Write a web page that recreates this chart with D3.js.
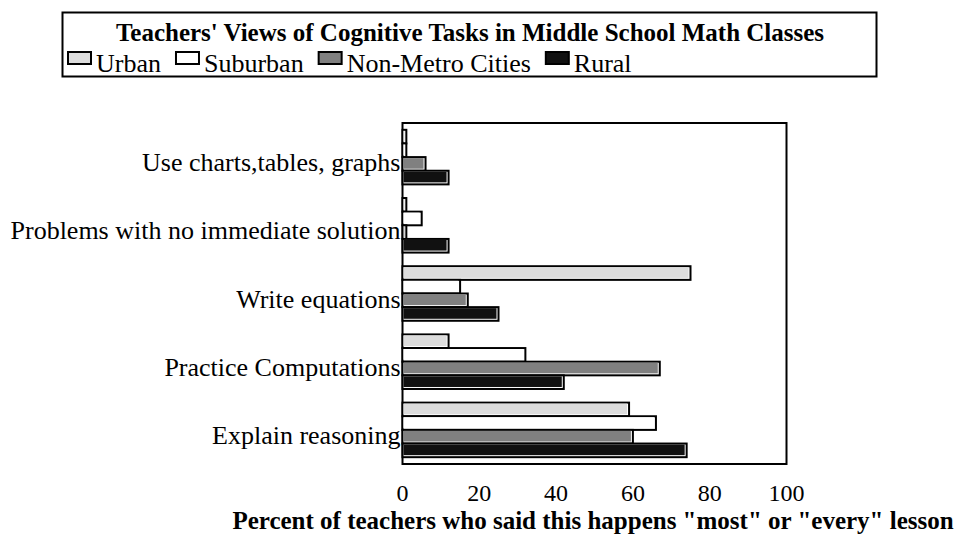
<!DOCTYPE html>
<html>
<head>
<meta charset="utf-8">
<script src="https://cdn.jsdelivr.net/npm/d3@7"></script>
<style>
  html, body { margin: 0; padding: 0; background: #fff; }
  svg { display: block; }
  text { font-family: "Liberation Serif", "Times New Roman", serif; fill: #000; }
</style>
</head>
<body>
<svg id="chart" width="960" height="542"></svg>
<script>
const title = "Teachers' Views of Cognitive Tasks in Middle School Math Classes";
const xTitle = "Percent of teachers who said this happens \"most\" or \"every\" lesson";
const categories = ["Use charts,tables, graphs", "Problems with no immediate solution", "Write equations", "Practice Computations", "Explain reasoning"];
const seriesNames = ["Urban", "Suburban", "Non-Metro Cities", "Rural"];
const seriesColors = ["#dcdcdc", "#ffffff", "#808080", "#111111"];
const urban    = [1, 1, 75, 12, 59];
const suburban = [1, 5, 15, 32, 66];
const nonMetro = [6, 1, 17, 67, 60];
const rural    = [12, 12, 25, 42, 74];
const xTicks = [0, 20, 40, 60, 80, 100];

const seriesValues = [urban, suburban, nonMetro, rural];

const svg = d3.select("#chart");

// Legend box
svg.append("rect").attr("x", 62.5).attr("y", 12.5).attr("width", 814).attr("height", 64)
  .attr("fill", "#fff").attr("stroke", "#000").attr("stroke-width", 2);
svg.append("text").attr("x", 470).attr("y", 41).attr("text-anchor", "middle")
  .attr("font-size", 25).attr("font-weight", "bold").text(title);

// Legend items laid out sequentially
let lx = 67;
const legendG = svg.append("g");
seriesNames.forEach((name, i) => {
  legendG.append("rect").attr("x", lx + 1).attr("y", 52).attr("width", 23).attr("height", 12)
    .attr("fill", seriesColors[i]).attr("stroke", "#000").attr("stroke-width", 2);
  const t = legendG.append("text").attr("x", lx + 29).attr("y", 72).attr("font-size", 26).text(name);
  const w = t.node().getComputedTextLength();
  lx = lx + 29 + w + 14;
});

// Plot
const pLeft = 402.5, pRight = 786.5, pTop = 123, pBottom = 464;
const x = d3.scaleLinear().domain([0, 100]).range([pLeft, pRight]);
const y0 = d3.scaleBand().domain(categories).range([pTop, pBottom]).paddingInner(0.2).paddingOuter(0.1);
const y1 = d3.scaleBand().domain(seriesNames).range([0, y0.bandwidth()]);

svg.append("rect").attr("x", pLeft).attr("y", pTop).attr("width", pRight - pLeft).attr("height", pBottom - pTop)
  .attr("fill", "#fff").attr("stroke", "#000").attr("stroke-width", 2);

// Category labels
svg.append("g").selectAll("text").data(categories).join("text")
  .attr("x", pLeft - 2)
  .attr("y", d => y0(d) + y0.bandwidth() / 2 + 14)
  .attr("text-anchor", "end")
  .attr("font-size", 26)
  .text(d => d);

// Bars
const barData = [];
categories.forEach((c, ci) => {
  seriesNames.forEach((s, si) => {
    barData.push({ cat: c, series: s, value: seriesValues[si][ci], color: seriesColors[si] });
  });
});

const bars = svg.append("g").selectAll("g").data(barData).join("g");
bars.append("rect")
  .attr("x", x(0))
  .attr("y", d => y0(d.cat) + y1(d.series))
  .attr("width", d => x(d.value) - x(0))
  .attr("height", y1.bandwidth())
  .attr("fill", "#fff").attr("stroke", "#000").attr("stroke-width", 2);
bars.append("rect")
  .attr("x", x(0) + 1)
  .attr("y", d => y0(d.cat) + y1(d.series) + 1)
  .attr("width", d => Math.max(0, x(d.value) - x(0) - 3))
  .attr("height", y1.bandwidth() - 3)
  .attr("fill", d => d.color);

// X axis tick labels
svg.append("g").selectAll("text").data(xTicks).join("text")
  .attr("x", d => x(d))
  .attr("y", 501)
  .attr("text-anchor", "middle")
  .attr("font-size", 24)
  .text(d => d);

svg.append("text").attr("x", 593).attr("y", 529).attr("text-anchor", "middle")
  .attr("font-size", 25).attr("font-weight", "bold").text(xTitle);
</script>
</body>
</html>
